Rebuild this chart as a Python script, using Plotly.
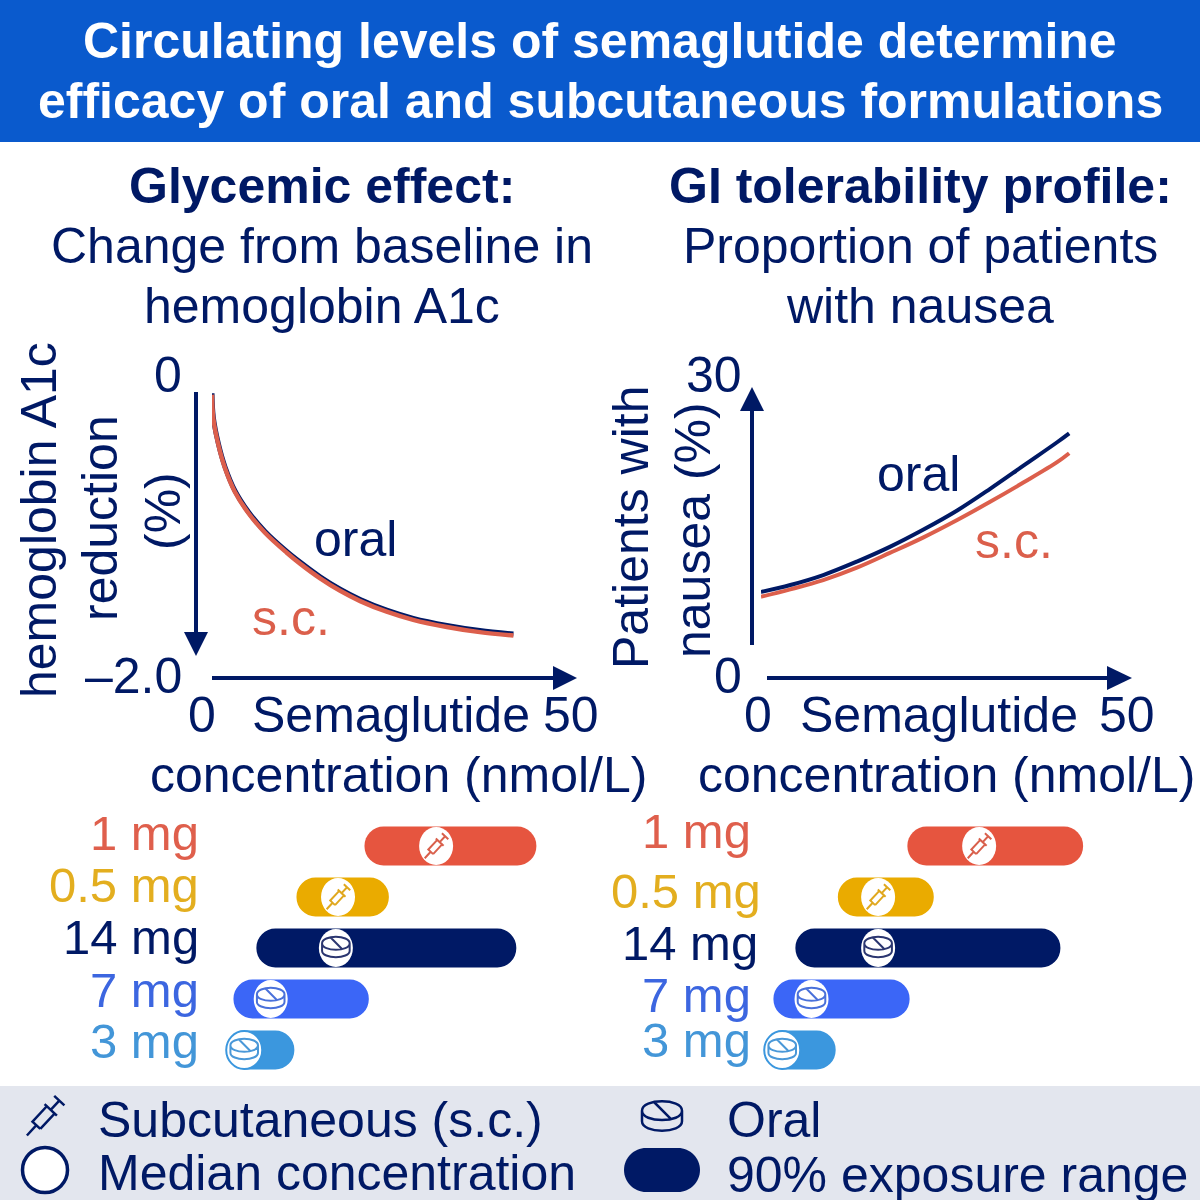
import math
import plotly.graph_objects as go

# ---------- data ----------
glyc_x = [0, 0.18, 0.88, 1.82, 3.2, 5.07, 7.4, 10.4, 12.3, 15.1, 17.9, 20.7, 24.4, 28.1, 32.8, 37.4, 42.1]
glyc_oral = [-0.01, -0.19, -0.39, -0.57, -0.75, -0.91, -1.06, -1.21, -1.293, -1.405, -1.50, -1.578, -1.659, -1.721, -1.775, -1.814, -1.84]
glyc_sc = [-0.02, -0.20, -0.40, -0.58, -0.76, -0.92, -1.07, -1.22, -1.305, -1.417, -1.512, -1.59, -1.671, -1.733, -1.787, -1.826, -1.852]

naus_x = [0, 4, 8.5, 13.1, 17.6, 22.2, 26.8, 31.3, 35.9, 40.5, 42.1]
naus_oral = [6.7, 7.5, 8.65, 10.2, 11.9, 13.9, 16.1, 18.6, 21.3, 24.0, 25.0]
naus_sc = [6.15, 7.0, 8.07, 9.5, 11.2, 13.0, 15.0, 17.1, 19.35, 21.7, 22.7]

doses = ["3 mg", "7 mg", "14 mg", "0.5 mg", "1 mg"]
dose_routes = ["oral", "oral", "oral", "sc", "sc"]
left_low = [2.0, 3.0, 6.2, 11.8, 21.3]
left_high = [11.5, 21.9, 42.5, 24.7, 45.3]
left_med = [4.5, 8.2, 17.3, 17.6, 31.3]
right_low = [0.4, 1.7, 4.7, 10.5, 20.0]
right_high = [10.2, 20.3, 40.9, 23.6, 44.0]
right_med = [2.9, 6.9, 16.0, 16.0, 29.8]

# ---------- styles ----------
NAVY = "#001965"
RED = "#E6553F"
SC_TXT = "#DB5F4B"
HEADER = "#0A5ACD"
BAND = "#E3E6EE"
dose_colors = ["#3B97DE", "#3B66F7", NAVY, "#EAAB00", RED]
FONT = "Liberation Sans"
FS = 50


def fx(p):
    return p / 1200


def fy(p):
    return 1 - p / 1200


def dom_x(a, b):
    return [fx(a), fx(b)]


def dom_y(top, bottom):
    return [fy(bottom), fy(top)]


fig = go.Figure()

# ---------- curves ----------
for xa, ya, xs, ys, col, w, name, smooth in [
    ("x", "y", glyc_x, glyc_oral, NAVY, 5, "oral", 1),
    ("x", "y", glyc_x, glyc_sc, "#DC5F4C", 4.5, "s.c.", 1),
    ("x2", "y2", naus_x, naus_sc, "#DC5F4C", 4, "s.c.", 1),
    ("x2", "y2", naus_x, naus_oral, NAVY, 4, "oral", 1),
]:
    fig.add_trace(go.Scatter(x=xs, y=ys, xaxis=xa, yaxis=ya, mode="lines", name=name,
                             line=dict(color=col, width=w, shape="spline", smoothing=smooth),
                             cliponaxis=False, showlegend=False))

# ---------- exposure bars ----------
for xa, ya, lo, hi in [("x3", "y3", left_low, left_high), ("x4", "y4", right_low, right_high)]:
    fig.add_trace(go.Bar(y=doses, x=[h - l for h, l in zip(hi, lo)], base=lo, orientation="h",
                         xaxis=xa, yaxis=ya, width=0.76, showlegend=False,
                         marker=dict(color=dose_colors, cornerradius=19, line=dict(width=0))))

axis_off = dict(visible=False, showgrid=False, zeroline=False, fixedrange=True)
fig.update_layout(
    width=1200, height=1200, margin=dict(l=0, r=0, t=0, b=0), autosize=False,
    paper_bgcolor="white", plot_bgcolor="rgba(0,0,0,0)", showlegend=False,
    font=dict(family=FONT, size=FS, color=NAVY),
    xaxis=dict(domain=dom_x(212, 570), range=[0, 50], **axis_off),
    yaxis=dict(domain=dom_y(392, 655), range=[-2, 0], **axis_off),
    xaxis2=dict(domain=dom_x(761, 1127), range=[0, 50], **axis_off),
    yaxis2=dict(domain=dom_y(390, 650), range=[0, 30], **axis_off),
    xaxis3=dict(domain=dom_x(212, 570), range=[0, 50], anchor="y3", **axis_off),
    yaxis3=dict(domain=dom_y(820.5, 1075.5), type="category", categoryorder="array",
                categoryarray=doses, anchor="x3", **axis_off),
    xaxis4=dict(domain=dom_x(761, 1127), range=[0, 50], anchor="y4", **axis_off),
    yaxis4=dict(domain=dom_y(820.5, 1075.5), type="category", categoryorder="array",
                categoryarray=doses, anchor="x4", **axis_off),
)

shapes = []


def rect(x0, y0, x1, y1, col):
    shapes.append(dict(type="rect", xref="paper", yref="paper", x0=fx(x0), x1=fx(x1), y0=fy(y1), y1=fy(y0),
                       fillcolor=col, line=dict(width=0), layer="below"))


def line(x0, y0, x1, y1):
    shapes.append(dict(type="line", xref="paper", yref="paper", x0=fx(x0), x1=fx(x1), y0=fy(y0), y1=fy(y1),
                       line=dict(color=NAVY, width=4)))


def tri(p1, p2, p3):
    path = "M{},{} L{},{} L{},{} Z".format(fx(p1[0]), fy(p1[1]), fx(p2[0]), fy(p2[1]), fx(p3[0]), fy(p3[1]))
    shapes.append(dict(type="path", xref="paper", yref="paper", path=path, fillcolor=NAVY, line=dict(width=0)))


rect(0, 0, 1200, 142, HEADER)
rect(0, 1086, 1200, 1200, BAND)

# axis arrows
line(196, 392, 196, 634)
tri((184, 632), (208, 632), (196, 656))
line(212, 678, 555, 678)
tri((553, 666), (553, 690), (577, 678))
line(752, 645, 752, 409)
tri((740, 411), (764, 411), (752, 387))
line(767, 678, 1109, 678)
tri((1107, 666), (1107, 690), (1132, 678))


def rot(t, n, ang=math.radians(47)):
    return (t * math.cos(ang) - n * math.sin(ang), t * math.sin(ang) + n * math.cos(ang))


def seg(*pts):
    out = []
    for i, (t, n) in enumerate(pts):
        x, y = rot(t, n)
        out.append(("M" if i == 0 else "L") + "{:.1f},{:.1f}".format(x, y))
    return " ".join(out)


def syringe_path(s=1.0):
    parts = [
        seg((-19 * s, 0), (-9 * s, 0)),
        seg((-9 * s, -3.8 * s), (6 * s, -3.8 * s), (6 * s, 3.8 * s), (-9 * s, 3.8 * s), (-9 * s, -3.8 * s)),
        seg((6 * s, -6 * s), (6 * s, 6 * s)),
        seg((6 * s, 0), (15 * s, 0)),
        seg((15 * s, -5 * s), (15 * s, 5 * s)),
    ]
    return " ".join(parts)


def pill_path(s=1.0):
    rx, ry, h = 15 * s, 9.5 * s, 8 * s
    top = h / 2 + 1
    k = 0.55
    p = []
    p.append(f"M{-rx:.1f},{top:.1f}")
    p.append(f"C{-rx:.1f},{top + ry * k * 1.8:.1f} {rx:.1f},{top + ry * k * 1.8:.1f} {rx:.1f},{top:.1f}")
    p.append(f"C{rx:.1f},{top - ry * k * 1.8:.1f} {-rx:.1f},{top - ry * k * 1.8:.1f} {-rx:.1f},{top:.1f}")
    p.append(f"M{-rx:.1f},{top:.1f} L{-rx:.1f},{top - h:.1f}")
    p.append(f"C{-rx:.1f},{top - h - ry * k * 1.8:.1f} {rx:.1f},{top - h - ry * k * 1.8:.1f} {rx:.1f},{top - h:.1f}")
    p.append(f"L{rx:.1f},{top:.1f}")
    p.append(f"M{-6 * s:.1f},{top + 6.5 * s:.1f} L{7 * s:.1f},{top - 6.5 * s:.1f}")
    return " ".join(p)


def icon(xref, yref, xa, ya, route, col, s=1.0, w=2):
    shapes.append(dict(type="path", xref=xref, yref=yref, xsizemode="pixel", ysizemode="pixel",
                       xanchor=xa, yanchor=ya,
                       path=syringe_path(s) if route == "sc" else pill_path(s),
                       line=dict(color=col, width=w)))


def ellipse(xref, yref, xa, ya, rx, ry, col, w):
    shapes.append(dict(type="circle", xref=xref, yref=yref, xsizemode="pixel", ysizemode="pixel",
                       xanchor=xa, yanchor=ya, x0=-rx, x1=rx, y0=-ry, y1=ry,
                       fillcolor="white", line=dict(color=col, width=w)))


icon_cols = {RED: "#D9604C", "#EAAB00": "#E0A81E", NAVY: "#2B3670", "#3B66F7": "#4A71DA", "#3B97DE": "#4A98D8"}
for xref, yref, meds in [("x3", "y3", left_med), ("x4", "y4", right_med)]:
    for i, (m, c, r) in enumerate(zip(meds, dose_colors, dose_routes)):
        is3 = doses[i] == "3 mg"
        ellipse(xref, yref, m, i, 18 if is3 else 17, 19, c if is3 else "white", 2 if is3 else 0)
        icon(xref, yref, m, i, r, icon_cols[c], 0.92 if r == "oral" else 0.88, 2)

# legend keys
icon("paper", "paper", fx(45), fy(1116), "sc", NAVY, 1.4, 2.5)
icon("paper", "paper", fx(662), fy(1117), "oral", NAVY, 1.33, 2.5)
shapes.append(dict(type="circle", xref="paper", yref="paper", xsizemode="pixel", ysizemode="pixel",
                   xanchor=fx(45), yanchor=fy(1170), x0=-22.5, x1=22.5, y0=-22.5, y1=22.5,
                   fillcolor="white", line=dict(color=NAVY, width=3.5)))


def key_path(x0=624, x1=700, y0=1148, y1=1192):
    r = (y1 - y0) / 2
    c = r * 0.45
    ym = (y0 + y1) / 2
    X, Y = fx, fy
    return (f"M{X(x0 + r):.5f},{Y(y0):.5f} L{X(x1 - r):.5f},{Y(y0):.5f} "
            f"C{X(x1 - c):.5f},{Y(y0):.5f} {X(x1):.5f},{Y(ym - r + c):.5f} {X(x1):.5f},{Y(ym):.5f} "
            f"C{X(x1):.5f},{Y(ym + r - c):.5f} {X(x1 - c):.5f},{Y(y1):.5f} {X(x1 - r):.5f},{Y(y1):.5f} "
            f"L{X(x0 + r):.5f},{Y(y1):.5f} "
            f"C{X(x0 + c):.5f},{Y(y1):.5f} {X(x0):.5f},{Y(ym + r - c):.5f} {X(x0):.5f},{Y(ym):.5f} "
            f"C{X(x0):.5f},{Y(ym - r + c):.5f} {X(x0 + c):.5f},{Y(y0):.5f} {X(x0 + r):.5f},{Y(y0):.5f} Z")


shapes.append(dict(type="path", xref="paper", yref="paper", path=key_path(), fillcolor=NAVY, line=dict(width=0)))

fig.update_layout(shapes=shapes)

# ---------- text ----------
ann = []


def T(text, x, y, size=FS, color=NAVY, bold=False, anchor="center", angle=0):
    s = f"<b>{text}</b>" if bold else text
    if anchor == "right":
        x += 2
    elif anchor == "left":
        x -= 1
    ann.append(dict(text=s, xref="paper", yref="paper", x=fx(x), y=fy(y), showarrow=False,
                    xanchor=anchor, yanchor="middle", textangle=angle, borderpad=0,
                    font=dict(family=FONT, size=size, color=color)))


T("Circulating levels of semaglutide determine", 600, 41, FS, "white", True)
T("efficacy of oral and subcutaneous formulations", 600, 101, FS, "white", True)
T("Glycemic effect:", 322, 186, FS, NAVY, True)
T("Change from baseline in", 322, 246)
T("hemoglobin A1c", 322, 306)
T("GI tolerability profile:", 920, 186, FS, NAVY, True)
T("Proportion of patients", 920, 246)
T("with nausea", 920, 306)

T("hemoglobin A1c", 39, 520, angle=-90)
T("reduction", 100, 518, angle=-90)
T("(%)", 163, 511, angle=-90)
T("Patients with", 631, 528, angle=-90)
T("nausea (%)", 693, 530, angle=-90)

T("0", 168, 375)
T("–2.0", 133, 676)
T("0", 202, 715)
T("50", 571, 715)
T("Semaglutide", 391, 715)
T("concentration (nmol/L)", 398, 775)
T("30", 714, 375)
T("0", 728, 676)
T("0", 758, 715)
T("50", 1127, 715)
T("Semaglutide", 939, 715)
T("concentration (nmol/L)", 946, 775)

T("oral", 355, 539)
T("s.c.", 291, 618, color=SC_TXT)
T("oral", 918, 474)
T("s.c.", 1014, 541, color=SC_TXT)

left_label_y = [1041, 990, 937, 885, 833]
right_label_y = [1040, 995, 943, 891, 831]
right_label_x = [750, 750, 757, 760, 750]
text_cols = {RED: "#DF5F4C", "#EAAB00": "#E3AE1F", "#3B66F7": "#3C66E0", "#3B97DE": "#4396D8", NAVY: NAVY}
for d, c, ly, ry, rx_ in zip(doses, dose_colors, left_label_y, right_label_y, right_label_x):
    T(d, 198, ly, 49, color=text_cols[c], anchor="right")
    T(d, rx_, ry, 49, color=text_cols[c], anchor="right")

T("Subcutaneous (s.c.)", 98, 1120, anchor="left")
T("Median concentration", 98, 1173, anchor="left")
T("Oral", 727, 1120, anchor="left")
T("90% exposure range", 727, 1175, anchor="left")

fig.update_layout(annotations=ann)

fig.write_html("out.html", config={"displayModeBar": False},
               post_script="document.body.style.margin='0';document.documentElement.style.overflow='hidden';")
